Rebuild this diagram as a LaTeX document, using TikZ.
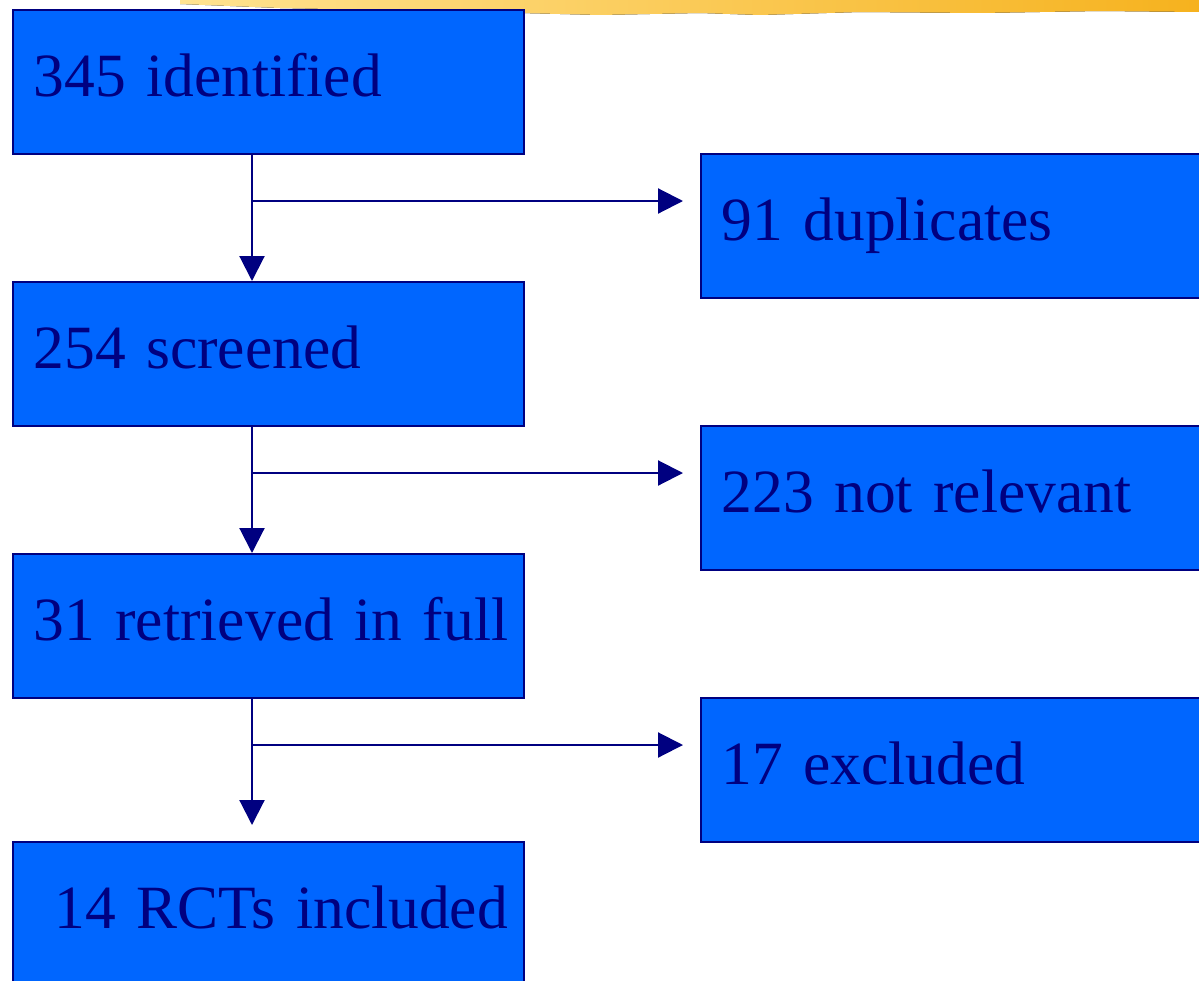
\documentclass[tikz,border=0pt]{standalone}
\usepackage{fontspec}
\setmainfont{Liberation Serif}
\usetikzlibrary{positioning, arrows.meta}

\definecolor{navy}{HTML}{000080}
\definecolor{boxblue}{HTML}{0066FF}
\definecolor{paleyellow}{HTML}{FFE391}
\definecolor{deepyellow}{HTML}{F6B21E}

\begin{document}
\begin{tikzpicture}[
    x=0.02cm, y=-0.02cm,
    stage/.style={rectangle, draw=navy, line width=1.2pt, fill=boxblue, text=navy,
        anchor=north west, minimum height=2.88cm, text width=9.4cm, inner xsep=0.41cm,
        align=left, text height=25pt, text depth=9pt, font=\fontsize{35}{42}\selectfont},
    side/.style={stage, text width=10.2cm},
    flow/.style={draw=navy, line width=1.2pt, -{Triangle[length=0.5cm,width=0.5cm]}}
]
    \path[use as bounding box, clip] (0,0) rectangle (1199,980);

    % brush stroke of the slide
    \fill[left color=paleyellow, right color=deepyellow]
        (180,-2) -- (1199,-2) -- (1199,12) -- (1100,11) -- (980,13) -- (860,12)
        -- (760,15) -- (700,13) -- (600,15) -- (480,12) -- (380,10) -- (280,8) -- (180,4) -- cycle;

    % left column
    \node[stage] (ident) at (12,9) {345 identified};
    \node[stage] (screen) at (12,281) {254 screened};
    \node[stage] (full) at (12,553) {\mbox{31 retrieved in full}};
    \node[stage] (incl) at (12,841) {\mbox{\hspace*{0.42cm}14 RCTs included}};

    % right column
    \node[side] (dup) at (700,153) {91 duplicates};
    \node[side] (notrel) at (700,425) {223 not relevant};
    \node[side] (excl) at (700,697) {17 excluded};

    % branch points
    \coordinate (c1) at (252,201);
    \coordinate (c2) at (252,473);
    \coordinate (c3) at (252,745);
    \coordinate (e1) at (683,201);
    \coordinate (e2) at (683,473);
    \coordinate (e3) at (683,745);
    \coordinate (t4) at (252,825);

    \draw[flow] (ident.south -| c1) -- (screen.north -| c1);
    \draw[flow] (screen.south -| c2) -- (full.north -| c2);
    \draw[flow] (full.south -| c3) -- (t4);

    \draw[flow] (c1) -- (e1);
    \draw[flow] (c2) -- (e2);
    \draw[flow] (c3) -- (e3);
\end{tikzpicture}
\end{document}
